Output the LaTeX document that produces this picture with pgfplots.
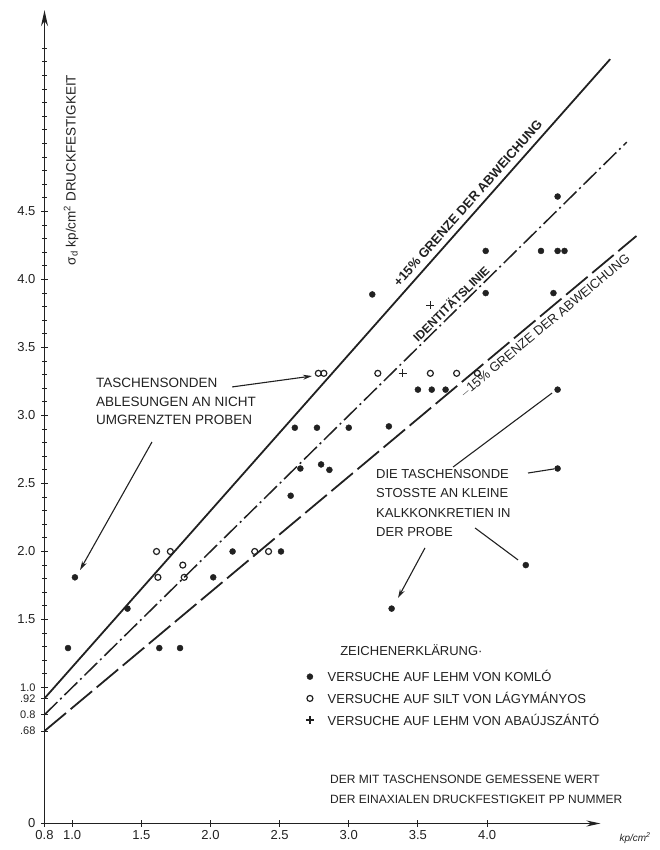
\documentclass[border=0pt]{standalone}
\usepackage{fontspec}
\setmainfont{Liberation Sans}
\usepackage{pgfplots}
\pgfplotsset{compat=1.18}
\usetikzlibrary{arrows.meta}
\definecolor{ink}{gray}{0.13}

\begin{document}
\begin{tikzpicture}
\begin{axis}[
  x=138.3pt, y=136pt,
  xmin=0.8, xmax=4.82, ymin=0, ymax=5.98,
  enlargelimits=false,
  clip=false,
  axis x line=bottom, axis y line=left,
  axis line style={ink, line width=1.3pt},
  x axis line style={-{Stealth[length=14pt,width=6pt]}},
  y axis line style={-{Stealth[length=16pt,width=7pt]}},
  xtick={0.8,1.0,1.5,2.0,2.5,3.0,3.5,4.0},
  xticklabels={0.8,1.0,1.5,2.0,2.5,3.0,3.5,4.0},
  ytick={0,0.68,0.8,0.92,1.0,1.5,2.0,2.5,3.0,3.5,4.0,4.5},
  yticklabels={0,{\fontsize{11}{11}\selectfont .68},{\fontsize{11}{11}\selectfont 0.8},{\fontsize{11}{11}\selectfont .92},{\fontsize{11}{11}\selectfont 1.0},1.5,2.0,2.5,3.0,3.5,4.0,4.5},
  minor ytick={1.1,1.2,1.3,1.4,1.6,1.7,1.8,1.9,2.1,2.2,2.3,2.4,2.6,2.7,2.8,2.9,3.1,3.2,3.3,3.4,3.6,3.7,3.8,3.9,4.1,4.2,4.3,4.4,4.6,4.7,4.8,4.9,5.0,5.1,5.2,5.3,5.4,5.5,5.6,5.7},
  tick align=center,
  major tick length=7pt, minor tick length=5pt,
  tick style={ink, line width=1pt},
  tick label style={font=\fontsize{13}{13}\selectfont, text=ink},
  yticklabel style={xshift=-2pt},
  /pgf/number format/assume math mode=true,
  legend cell align=left,
  legend image code/.code={\path (0pt,0pt) (24pt,0pt); \draw[#1] plot coordinates {(9pt,0pt)};},
  legend style={draw=none, fill=none, at={(0.4595,0.1911)}, anchor=north west,
    inner sep=0pt, row sep=5pt, font=\fontsize{13}{15}\selectfont, text=ink},
]
% reference lines
\addplot[ink, line width=1.8pt, forget plot] coordinates {(0.8,0.92) (4.89,5.62)};
\addplot[ink, line width=1.5pt, dash pattern=on 18pt off 4pt on 2pt off 4pt, forget plot] coordinates {(0.8,0.8) (5.01,5.01)};
\addplot[ink, line width=1.8pt, dash pattern=on 28pt off 6pt, forget plot] coordinates {(0.8,0.68) (5.08,4.32)};

% data
\addplot[only marks, mark=*, mark size=3pt, ink] coordinates {
 (0.97,1.29) (1.02,1.81) (1.40,1.58) (1.63,1.29) (1.78,1.29) (2.02,1.81)
 (2.16,2.00) (2.51,2.00) (2.58,2.41) (2.61,2.91) (2.77,2.91) (3.00,2.91)
 (3.29,2.92) (2.65,2.61) (2.80,2.64) (2.86,2.60) (3.17,3.89) (3.50,3.19)
 (3.60,3.19) (3.70,3.19) (3.99,4.21) (3.99,3.90) (4.39,4.21) (4.51,4.21)
 (4.56,4.21) (4.48,3.90) (4.51,4.61) (4.51,3.19) (4.51,2.61) (4.28,1.90)
 (3.31,1.58)};
\addlegendentry{VERSUCHE AUF LEHM VON KOMLÓ}
\addplot[only marks, mark=o, mark size=3pt, ink, line width=1.2pt] coordinates {
 (1.61,2.00) (1.71,2.00) (1.62,1.81) (1.80,1.90) (1.81,1.81) (2.32,2.00)
 (2.42,2.00) (2.78,3.31) (2.82,3.31) (3.21,3.31) (3.59,3.31) (3.78,3.31)
 (3.93,3.31)};
\addlegendentry{VERSUCHE AUF SILT VON LÁGYMÁNYOS}
\addplot[only marks, mark=+, mark size=4pt, ink, line width=1.5pt] coordinates {
 (3.39,3.31) (3.59,3.81)};
\addlegendentry{VERSUCHE AUF LEHM VON ABAÚJSZÁNTÓ}

% labels along lines
\path (axis cs:3.52,4.048) -- (axis cs:4.32,4.968)
  node[pos=0.5, sloped, above=4pt, inner sep=2pt, text=ink, font=\fontsize{13}{13}\selectfont\bfseries] {+15\% GRENZE DER ABWEICHUNG};
\path (axis cs:3.38,3.38) -- (axis cs:4.18,4.18)
  node[pos=0.5, sloped, above=1pt, inner sep=2pt, text=ink, font=\fontsize{12}{12}\selectfont\bfseries] {IDENTITÄTSLINIE};
\path (axis cs:3.97,3.3745) -- (axis cs:4.77,4.0545)
  node[pos=0.5, sloped, below=3pt, inner sep=2pt, text=ink, font=\fontsize{13}{13}\selectfont] {$-$15\% GRENZE DER ABWEICHUNG};

% annotations
\node[anchor=north west, align=left, inner sep=0pt, text=ink, font=\fontsize{13.5}{18.5}\selectfont]
  at (axis cs:1.172,3.276) {TASCHENSONDEN\\ABLESUNGEN AN NICHT\\UMGRENZTEN PROBEN};
\draw[ink, line width=1.1pt, -{Stealth[length=9pt,width=5pt]}] (axis cs:2.157,3.210) -- (axis cs:2.734,3.290);
\draw[ink, line width=1.1pt, -{Stealth[length=9pt,width=5pt]}] (axis cs:1.577,2.805) -- (axis cs:1.057,1.864);

\node[anchor=north west, align=left, inner sep=0pt, text=ink, font=\fontsize{13}{19.5}\selectfont]
  at (axis cs:3.197,2.607) {DIE TASCHENSONDE\\STOSSTE AN KLEINE\\KALKKONKRETIEN IN\\DER PROBE};
\draw[ink, line width=1.1pt] (axis cs:3.754,2.621) -- (axis cs:4.47,3.165);
\draw[ink, line width=1.1pt] (axis cs:4.296,2.577) -- (axis cs:4.484,2.607);
\draw[ink, line width=1.1pt] (axis cs:3.913,2.173) -- (axis cs:4.224,1.938);
\draw[ink, line width=1.1pt, -{Stealth[length=9pt,width=5pt]}] (axis cs:3.551,2.026) -- (axis cs:3.356,1.658);

\node[anchor=west, inner sep=0pt, text=ink, font=\fontsize{13}{13}\selectfont] at (axis cs:2.937,1.276) {ZEICHENERKLÄRUNG·};

\node[anchor=north west, align=left, inner sep=0pt, text=ink, font=\fontsize{12}{20}\selectfont]
  at (axis cs:2.864,0.357) {DER MIT TASCHENSONDE GEMESSENE WERT\\DER EINAXIALEN DRUCKFESTIGKEIT PP NUMMER};

\node[rotate=90, inner sep=0pt, text=ink, font=\fontsize{13.5}{13.5}\selectfont] at (axis cs:0.9916,4.805) {σ\textsubscript{d} kp/cm\textsuperscript{2} DRUCKFESTIGKEIT};
\node[inner sep=0pt, text=ink, font=\fontsize{10}{10}\selectfont\itshape] at (axis cs:5.07,-0.107) {kp/cm\textsuperscript{2}};

\coordinate (TL) at (axis cs:0.4782,6.0551);
\coordinate (BR) at (axis cs:5.2504,-0.1949);
\end{axis}
\pgfresetboundingbox
\path (TL) rectangle (BR);
\end{tikzpicture}
\end{document}
